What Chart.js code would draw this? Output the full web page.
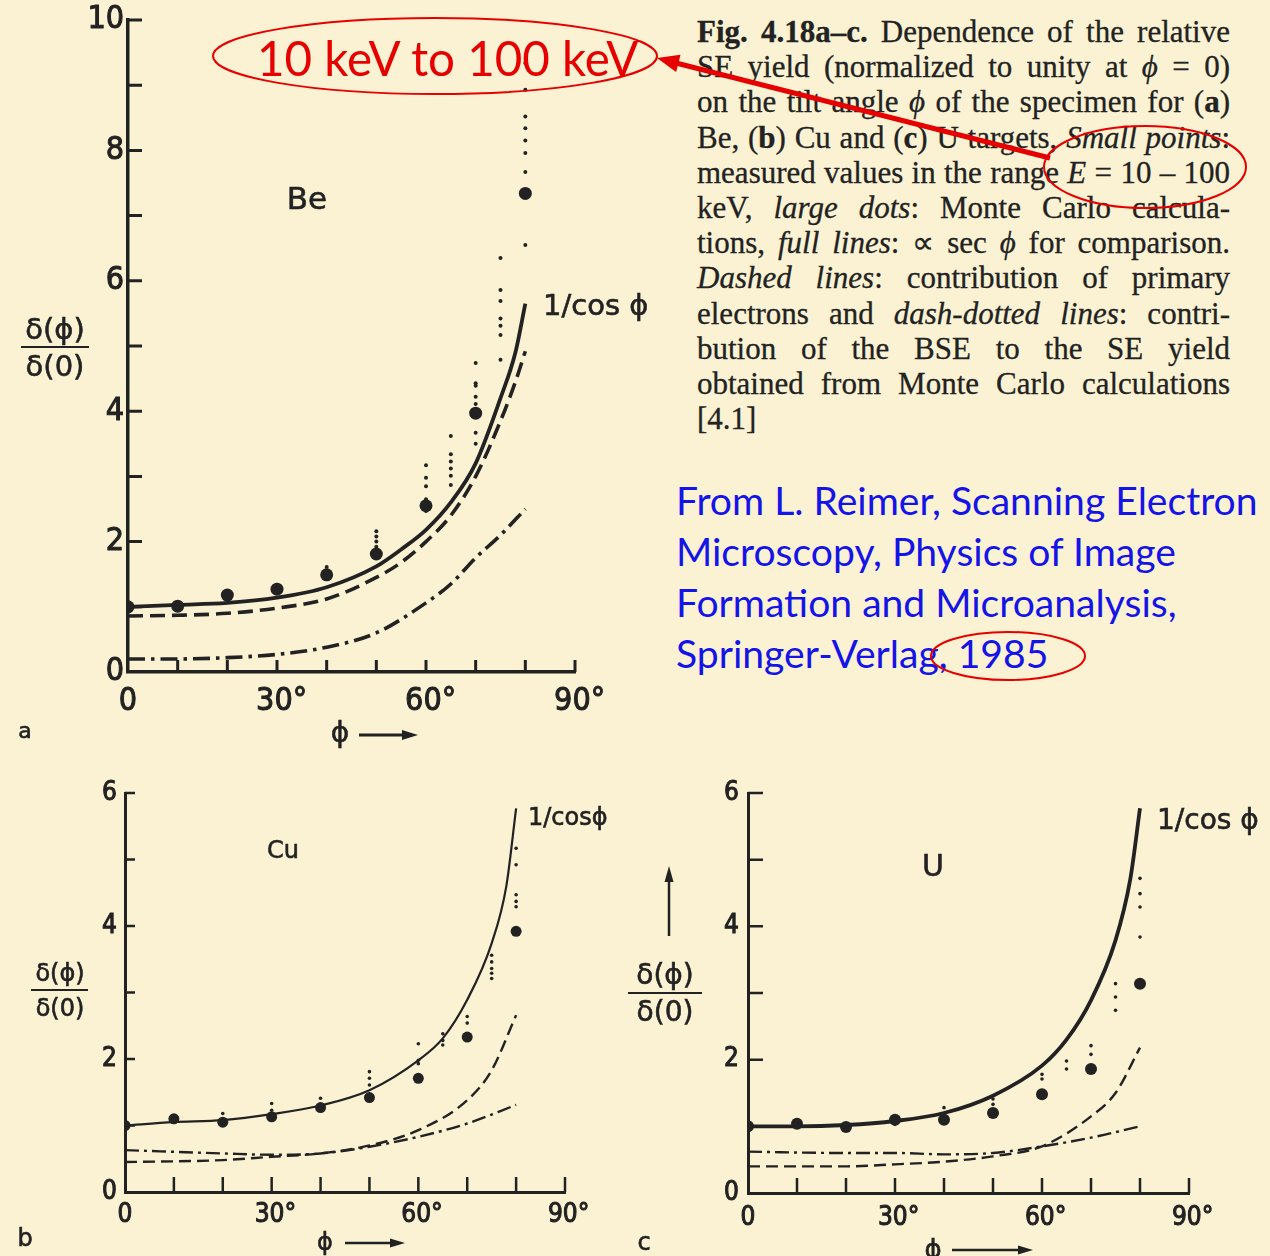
<!DOCTYPE html>
<html><head><meta charset="utf-8">
<script src="https://cdn.jsdelivr.net/npm/chart.js@4.4.1/dist/chart.umd.min.js"></script>
<style>
html,body{margin:0;padding:0;}
body{width:1270px;height:1256px;background:#FAF2D3;position:relative;overflow:hidden;font-family:"DejaVu Sans",sans-serif;color:#222;}
canvas{position:absolute;}
.t{position:absolute;white-space:nowrap;transform:translate(-50%,-50%);line-height:1;-webkit-text-stroke:0.6px #222;}
.tl{position:absolute;white-space:nowrap;transform:translate(0,-50%);line-height:1;-webkit-text-stroke:0.6px #222;}
.bar{position:absolute;border-top:2.5px solid #222;height:0;}
#cap{position:absolute;left:697px;top:14px;width:533px;font-family:"Liberation Serif","Times New Roman",serif;font-size:31px;color:#222;-webkit-text-stroke:0.3px #222;}
.cl{height:35.2px;line-height:35.2px;text-align:justify;text-align-last:justify;}
.cl.last{text-align-last:left;}
#cite{position:absolute;left:676px;top:474px;font-family:Lato,"Open Sans",sans-serif;color:#1414E8;}
#cite div{height:51px;line-height:51px;white-space:nowrap;}
#red{position:absolute;left:257px;top:58px;transform:translate(0,-50%);font-family:Lato,"Open Sans",sans-serif;color:#E60000;white-space:nowrap;line-height:1;}
svg{position:absolute;left:0;top:0;}
</style></head><body>
<canvas id="ca" width="660" height="760" style="left:0;top:0"></canvas>
<canvas id="cb" width="620" height="486" style="left:0;top:770px"></canvas>
<canvas id="cc" width="650" height="486" style="left:620px;top:770px"></canvas>

<!-- panel a texts -->
<div class="t" style="left:307px;top:198px;font-size:31px">Be</div>
<div class="tl" style="left:543px;top:305px;font-size:29px">1/cos ϕ</div>
<div class="t" style="left:55px;top:329px;font-size:29px">δ(ϕ)</div>
<div class="bar" style="left:21px;top:346px;width:68px"></div>
<div class="t" style="left:55px;top:366px;font-size:29px">δ(0)</div>
<div class="t" style="left:25px;top:731px;font-size:22px">a</div>
<div class="t" style="left:340px;top:733px;font-size:28px">ϕ</div>
<!-- panel b texts -->
<div class="t" style="left:283px;top:850px;font-size:24px">Cu</div>
<div class="tl" style="left:528px;top:817px;font-size:24px">1/cosϕ</div>
<div class="t" style="left:60px;top:973px;font-size:24px">δ(ϕ)</div>
<div class="bar" style="left:31px;top:989px;width:57px"></div>
<div class="t" style="left:60px;top:1008px;font-size:24px">δ(0)</div>
<div class="t" style="left:25px;top:1238px;font-size:24px">b</div>
<div class="t" style="left:325px;top:1242px;font-size:24px">ϕ</div>
<!-- panel c texts -->
<div class="t" style="left:933px;top:866px;font-size:30px">U</div>
<div class="tl" style="left:1157px;top:820px;font-size:28px">1/cos ϕ</div>
<div class="t" style="left:665px;top:975px;font-size:28px">δ(ϕ)</div>
<div class="bar" style="left:628px;top:992px;width:74px"></div>
<div class="t" style="left:665px;top:1012px;font-size:28px">δ(0)</div>
<div class="t" style="left:644px;top:1242px;font-size:24px">c</div>
<div class="t" style="left:933px;top:1249px;font-size:26px">ϕ</div>

<div id="cap">
<div class="cl"><b>Fig. 4.18a–c.</b> Dependence of the relative</div>
<div class="cl">SE yield (normalized to unity at <i>ϕ</i> = 0)</div>
<div class="cl">on the tilt angle <i>ϕ</i> of the specimen for (<b>a</b>)</div>
<div class="cl">Be, (<b>b</b>) Cu and (<b>c</b>) U targets, <i>Small points</i>:</div>
<div class="cl">measured values in the range <i>E</i> = 10 – 100</div>
<div class="cl">keV, <i>large dots</i>: Monte Carlo calcula-</div>
<div class="cl">tions, <i>full lines</i>: ∝ sec <i>ϕ</i> for comparison.</div>
<div class="cl"><i>Dashed lines</i>: contribution of primary</div>
<div class="cl">electrons and <i>dash-dotted lines</i>: contri-</div>
<div class="cl">bution of the BSE to the SE yield</div>
<div class="cl">obtained from Monte Carlo calculations</div>
<div class="cl last">[4.1]</div>
</div>

<div id="cite">
<div>From L. Reimer, Scanning Electron</div>
<div>Microscopy, Physics of Image</div>
<div>Formation and Microanalysis,</div>
<div>Springer-Verlag, 1985</div>
</div>
<div id="red">10 keV to 100 keV</div>

<svg width="1270" height="1256">
  <!-- phi arrows -->
  <line x1="359" y1="735" x2="405" y2="735" stroke="#222" stroke-width="3"/>
  <polygon points="418,735 402,730 402,740" fill="#222"/>
  <line x1="345" y1="1243" x2="393" y2="1243" stroke="#222" stroke-width="2.5"/>
  <polygon points="405,1243 390,1238.5 390,1247.5" fill="#222"/>
  <line x1="952" y1="1250" x2="1020" y2="1250" stroke="#222" stroke-width="2.5"/>
  <polygon points="1033,1250 1018,1245.5 1018,1254.5" fill="#222"/>
  <!-- up arrow panel c -->
  <line x1="669" y1="936" x2="669" y2="880" stroke="#222" stroke-width="2.5"/>
  <polygon points="669,866 664.5,882 673.5,882" fill="#222"/>
  <!-- red annotations -->
  <ellipse cx="435" cy="56" rx="222" ry="38" fill="none" stroke="#E60000" stroke-width="2"/>
  <ellipse cx="1145" cy="167" rx="101" ry="41" fill="none" stroke="#E60000" stroke-width="2"/>
  <ellipse cx="1008" cy="656" rx="77" ry="24" fill="none" stroke="#E60000" stroke-width="2"/>
  <line x1="1050" y1="158" x2="676" y2="63" stroke="#E60000" stroke-width="5"/>
  <polygon points="657,58 680.5,54.7 676.1,72.1" fill="#E60000"/>
</svg>

<script>
// ---------------- DATA ----------------
// panel a : Be
const aSecX  = [0, 10, 20, 30, 40, 50, 55, 60, 65, 70, 75, 78, 80];
const aSecY  = [1.0, 1.03, 1.06, 1.14, 1.3, 1.62, 1.88, 2.18, 2.6, 3.2, 4.2, 4.9, 5.65];
const aPrimX = [0, 10, 20, 30, 40, 50, 55, 60, 65, 70, 75, 78, 80];
const aPrimY = [0.86, 0.87, 0.9, 0.98, 1.12, 1.45, 1.68, 2.0, 2.4, 3.0, 3.85, 4.45, 4.92];
const aBseX  = [0, 10, 20, 30, 40, 50, 60, 65, 70, 75, 80];
const aBseY  = [0.2, 0.2, 0.22, 0.27, 0.38, 0.6, 1.06, 1.35, 1.75, 2.1, 2.5];
const aMcX   = [0, 10, 20, 30, 40, 50, 60, 70, 80];
const aMcY   = [1.0, 1.01, 1.18, 1.27, 1.49, 1.81, 2.55, 3.97, 7.34];
const aSmX   = [20, 30, 40, 50, 50, 50, 50, 60, 60, 60, 60, 60, 65, 65, 65, 65, 65, 65,
                70, 70, 70, 70, 70, 70, 70, 75, 75, 75, 75, 75, 75, 75, 80, 80, 80, 80, 80, 80, 80, 80];
const aSmY   = [1.21, 1.34, 1.61, 2.16, 2.08, 2.0, 1.92, 3.17, 2.98, 2.85, 2.65, 2.47,
                3.62, 3.34, 3.23, 3.12, 3.01, 2.87, 4.74, 4.43, 4.39, 4.22, 4.11, 3.67, 3.5,
                6.35, 5.86, 5.69, 5.42, 5.31, 5.17, 4.79, 9.34, 8.93, 8.52, 8.34, 8.15, 7.96, 7.67, 6.55];

// panel b : Cu
const bSecX  = [0, 10, 20, 30, 40, 50, 60, 65, 70, 75, 78, 80];
const bSecY  = [1.0, 1.05, 1.08, 1.17, 1.3, 1.53, 1.98, 2.31, 2.89, 3.74, 4.6, 5.77];
const bPrimX = [0, 20, 30, 40, 50, 60, 70, 75, 80];
const bPrimY = [0.45, 0.48, 0.53, 0.58, 0.7, 0.93, 1.38, 1.83, 2.66];
const bBseX  = [0, 20, 30, 40, 50, 60, 70, 80];
const bBseY  = [0.63, 0.58, 0.56, 0.58, 0.68, 0.83, 1.03, 1.31];
const bMcX   = [0, 10, 20, 30, 40, 50, 60, 70, 80];
const bMcY   = [1.0, 1.1, 1.05, 1.13, 1.27, 1.42, 1.71, 2.33, 3.92];
const bSmX   = [20, 30, 30, 40, 50, 50, 50, 60, 60, 60, 65, 65, 65, 70, 70,
                75, 75, 75, 75, 75, 80, 80, 80, 80, 80];
const bSmY   = [1.18, 1.33, 1.23, 1.41, 1.81, 1.71, 1.61, 2.23, 1.98, 1.93, 2.38, 2.28, 2.21, 2.64, 2.54,
                3.56, 3.46, 3.36, 3.29, 3.21, 5.17, 4.92, 4.47, 4.37, 4.29];

// panel c : U
const cSecX  = [0, 10, 20, 30, 40, 50, 60, 65, 70, 75, 78, 80];
const cSecY  = [1.0, 1.0, 1.02, 1.08, 1.2, 1.46, 1.91, 2.3, 2.89, 3.79, 4.7, 5.77];
const cPrimX = [0, 20, 30, 40, 50, 60, 70, 75, 80];
const cPrimY = [0.4, 0.4, 0.43, 0.47, 0.55, 0.7, 1.15, 1.5, 2.18];
const cBseX  = [0, 20, 30, 40, 50, 60, 70, 80];
const cBseY  = [0.62, 0.6, 0.6, 0.58, 0.6, 0.7, 0.83, 1.0];
const cMcX   = [0, 10, 20, 30, 40, 50, 60, 70, 80];
const cMcY   = [1.0, 1.04, 0.99, 1.1, 1.1, 1.2, 1.48, 1.86, 3.14];
const cSmX   = [30, 40, 50, 50, 60, 60, 65, 65, 70, 70, 75, 75, 75, 80, 80, 80, 80];
const cSmY   = [1.03, 1.28, 1.41, 1.33, 1.78, 1.71, 1.98, 1.86, 2.21, 2.08, 3.14, 2.94, 2.74, 4.72, 4.49, 4.29, 3.84];

// axes / ticks
const xTickVals  = [10, 20, 30, 40, 50, 60, 70, 80, 90];
const xLabelVals = [0, 30, 60, 90];
const aYTickVals = [1, 2, 3, 4, 5, 6, 7, 8, 9, 10];
const bcYTickVals = [1, 2, 3, 4, 5, 6];

// ---------------- CHART BUILD ----------------
const INK = '#222';
const NUM_FONT = '"Liberation Sans Narrow","DejaVu Sans Condensed","DejaVu Sans",sans-serif';
const pts = (xs, ys) => xs.map((x, i) => ({x: x, y: ys[i]}));

const inTicks = {
  id: 'inTicks',
  afterDraw(chart, args, o) {
    const {ctx, chartArea: ca, scales: {x, y}} = chart;
    ctx.save();
    ctx.strokeStyle = INK; ctx.lineWidth = o.w; ctx.lineCap = 'butt';
    ctx.beginPath();
    o.xv.forEach(v => { const px = x.getPixelForValue(v); ctx.moveTo(px, ca.bottom); ctx.lineTo(px, ca.bottom - o.xl); });
    o.yv.forEach(v => { const py = y.getPixelForValue(v); ctx.moveTo(ca.left, py); ctx.lineTo(ca.left + o.yl, py); });
    ctx.stroke();
    ctx.restore();
  }
};

function noPad(s) { s.paddingLeft = 0; s.paddingRight = 0; s.paddingTop = 0; s.paddingBottom = 0; }

function makePanel(id, p) {
  const lineDs = (xs, ys, w, dash) => ({
    data: pts(xs, ys), showLine: true, pointRadius: 0, borderColor: INK, borderWidth: w,
    borderDash: dash, fill: false, cubicInterpolationMode: 'monotone', borderCapStyle: 'butt'
  });
  const tickFont = {family: NUM_FONT, size: p.fs};
  return new Chart(document.getElementById(id), {
    type: 'scatter',
    data: {datasets: [
      {data: pts(p.mcX, p.mcY), pointRadius: p.bigR, pointBackgroundColor: INK, pointBorderWidth: 0, showLine: false},
      {data: pts(p.smX, p.smY), pointRadius: p.smR, pointBackgroundColor: INK, pointBorderWidth: 0, showLine: false},
      lineDs(p.secX, p.secY, p.secW, []),
      lineDs(p.primX, p.primY, p.dashW, p.dash),
      lineDs(p.bseX, p.bseY, p.dashW, p.dashdot)
    ]},
    options: {
      responsive: false, animation: false, devicePixelRatio: 1,
      layout: {padding: {left: 0, top: p.padTop, right: p.padRight, bottom: 0}},
      plugins: {legend: {display: false}, tooltip: {enabled: false},
        inTicks: {w: p.tickW, xl: p.xTickLen, yl: p.yTickLen, xv: xTickVals, yv: p.yTicks}},
      scales: {
        x: {type: 'linear', min: 0, max: 90,
          afterFit: s => { s.height = p.xH; noPad(s); },
          ticks: {stepSize: 10, autoSkip: false, maxRotation: 0, padding: p.xPad, color: INK,
            textStrokeColor: INK, textStrokeWidth: 1, font: tickFont,
            callback: v => xLabelVals.includes(v) ? (v === 0 ? '0' : ' ' + v + '°') : ''},
          grid: {display: false, drawTicks: false},
          border: {display: true, width: p.axW, color: INK}},
        y: {type: 'linear', min: 0, max: p.yMax,
          afterFit: s => { s.width = p.yW; noPad(s); },
          ticks: {stepSize: 1, autoSkip: false, padding: p.yPad, color: INK,
            textStrokeColor: INK, textStrokeWidth: 1, font: tickFont,
            callback: v => (v % 2 === 0 ? String(v) : '')},
          grid: {display: false, drawTicks: false},
          border: {display: true, width: p.axW, color: INK}}
      }
    },
    plugins: [inTicks]
  });
}

makePanel('ca', {
  secX: aSecX, secY: aSecY, primX: aPrimX, primY: aPrimY, bseX: aBseX, bseY: aBseY,
  mcX: aMcX, mcY: aMcY, smX: aSmX, smY: aSmY, yTicks: aYTickVals, yMax: 10,
  padTop: 20, padRight: 85, yW: 128, xH: 88, fs: 32, xPad: 10, yPad: 4,
  axW: 3.5, tickW: 3, xTickLen: 12, yTickLen: 14,
  secW: 3.8, dashW: 3.6, dash: [15, 7], dashdot: [17, 6, 3.5, 6], bigR: 6.5, smR: 2
});
makePanel('cb', {
  secX: bSecX, secY: bSecY, primX: bPrimX, primY: bPrimY, bseX: bBseX, bseY: bBseY,
  mcX: bMcX, mcY: bMcY, smX: bSmX, smY: bSmY, yTicks: bcYTickVals, yMax: 6,
  padTop: 23, padRight: 55, yW: 125, xH: 64, fs: 26, xPad: 8, yPad: 8,
  axW: 3, tickW: 2.5, xTickLen: 15, yTickLen: 10,
  secW: 2.2, dashW: 2.4, dash: [12, 6], dashdot: [14, 5, 3, 5], bigR: 5.5, smR: 1.8
});
makePanel('cc', {
  secX: cSecX, secY: cSecY, primX: cPrimX, primY: cPrimY, bseX: cBseX, bseY: cBseY,
  mcX: cMcX, mcY: cMcY, smX: cSmX, smY: cSmY, yTicks: bcYTickVals, yMax: 6,
  padTop: 23, padRight: 81, yW: 128, xH: 63, fs: 26, xPad: 10, yPad: 9,
  axW: 3, tickW: 2.5, xTickLen: 15, yTickLen: 15,
  secW: 3.8, dashW: 2.4, dash: [12, 6], dashdot: [14, 5, 3, 5], bigR: 6, smR: 1.8
});

// fit annotation texts to their widths in the picture
(function fitText() {
  const c = document.createElement('canvas').getContext('2d');
  c.font = '100px Lato, "Open Sans", sans-serif';
  const w1 = c.measureText('From L. Reimer, Scanning Electron').width;
  document.getElementById('cite').style.fontSize = (100 * 582 / w1).toFixed(1) + 'px';
  const w2 = c.measureText('10 keV to 100 keV').width;
  document.getElementById('red').style.fontSize = (100 * 383 / w2).toFixed(1) + 'px';
})();
</script>
</body></html>
